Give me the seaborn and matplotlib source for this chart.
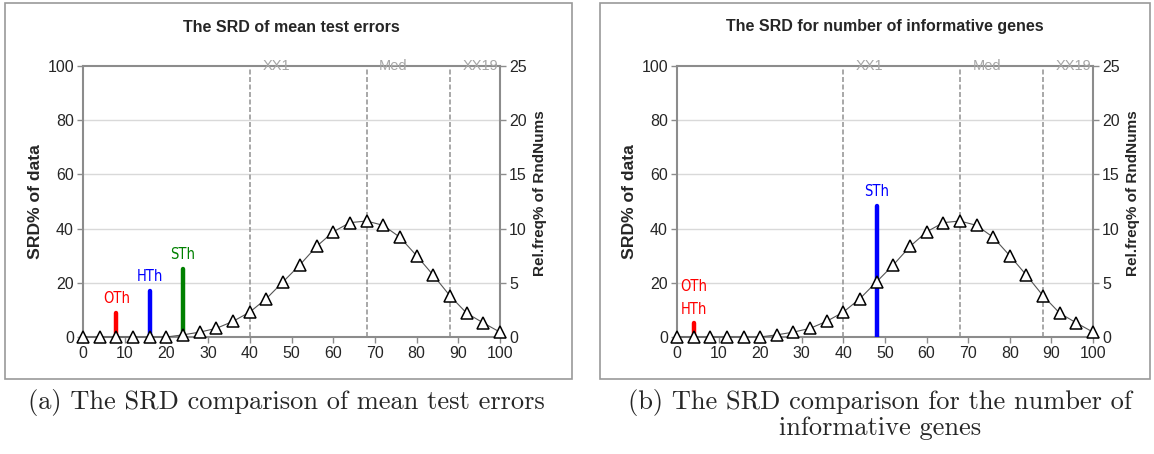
import numpy as np
import pandas as pd
import matplotlib
matplotlib.use('Agg')
import matplotlib.pyplot as plt
from matplotlib.patches import Rectangle
import seaborn as sns

# random-number reference distribution (right axis, Rel.freq%)
rnd_x = [0, 4, 8, 12, 16, 20, 24, 28, 32, 36, 40, 44, 48, 52, 56, 60, 64, 68, 72, 76, 80, 84, 88, 92, 96, 100]
rnd_freq = [0, 0, 0, 0, 0, 0, 0.2, 0.45, 0.8, 1.45, 2.3, 3.55, 5.1, 6.65, 8.35, 9.7,
            10.55, 10.7, 10.3, 9.2, 7.5, 5.7, 3.8, 2.2, 1.3, 0.45]

# reference lines
ref_names = ['XX1', 'Med', 'XX19']
ref_x = [40, 68, 88]

# panel (a): mean test errors
a_title = 'The SRD of mean test errors'
a_methods = ['OTh', 'HTh', 'STh']
a_srd = [8, 16, 24]
a_height = [9, 17, 25]
a_colors = ['red', 'blue', 'green']

# panel (b): number of informative genes
b_title = 'The SRD for number of informative genes'
b_methods = ['OTh\nHTh', 'STh']
b_srd = [4, 48]
b_height = [5, 48.5]
b_colors = ['red', 'blue']

captions = ['(a) The SRD comparison of mean test errors',
            '(b) The SRD comparison for the number of\ninformative genes']

sns.set_style('white')
plt.rcParams['font.family'] = ['Liberation Sans', 'DejaVu Sans']

W, H = 1154, 454
fig = plt.figure(figsize=(W / 100, H / 100), dpi=100)


def px_rect(x0, y0, x1, y1):
    return [x0 / W, 1 - y1 / H, (x1 - x0) / W, (y1 - y0) / H]


def draw_panel(box, plot, title, methods, srd, heights, colors, caption, cap_x):
    bx = px_rect(*box)
    fig.add_artist(Rectangle((bx[0], bx[1]), bx[2], bx[3], transform=fig.transFigure,
                             fill=False, edgecolor='#999999', linewidth=1.2))
    ax = fig.add_axes(px_rect(*plot))
    pw = plot[2] - plot[0]
    ax.set_xlim(0, 100)
    ax.set_ylim(0, 100)
    ax.set_yticks([0, 20, 40, 60, 80, 100])
    ax.set_xticks(range(0, 101, 10))
    for y in [20, 40, 60, 80]:
        ax.axhline(y, color='#d9d9d9', linewidth=1.0, zorder=0)
    for sp in ax.spines.values():
        sp.set_color('#8c8c8c')
        sp.set_linewidth(1.5)
    ax.spines['right'].set_visible(False)
    ax.tick_params(axis='both', direction='out', length=4, width=1, color='#8c8c8c',
                   labelsize=11.5, pad=2.5, left=True, bottom=True)
    ax.set_ylabel('SRD% of data', fontweight='bold', fontsize=12.6)
    ax.yaxis.set_label_coords(-40 / pw, 0.5)

    for name, xv in zip(ref_names, ref_x):
        ax.axvline(xv, color='#999999', linestyle=(0, (3, 1.5)), linewidth=1.2, zorder=1)
        ax.text(xv + 3, 100, name, color='#a6a6a6', fontsize=10.5, ha='left', va='center')

    for m, xv, h, c in zip(methods, srd, heights, colors):
        ax.plot([xv, xv], [0, h], color=c, linewidth=3.2, solid_capstyle='round', zorder=3)
        ax.text(xv, h + 2.5, m, color=c, fontsize=10.5, ha='center', va='bottom',
                linespacing=1.6, family='DejaVu Sans', fontstretch='condensed')

    ax2 = ax.twinx()
    df = pd.DataFrame({'x': rnd_x, 'freq': rnd_freq})
    sns.lineplot(data=df, x='x', y='freq', ax=ax2, color='#555555', linewidth=0.8,
                 marker='^', markersize=8.5, markerfacecolor='white',
                 markeredgecolor='black', markeredgewidth=1.1, zorder=5, clip_on=False)
    ax2.set_ylim(0, 25)
    ax2.set_xlim(0, 100)
    ax2.set_yticks([0, 5, 10, 15, 20, 25])
    for k in ['left', 'top', 'bottom']:
        ax2.spines[k].set_visible(False)
    ax2.spines['right'].set_color('#8c8c8c')
    ax2.spines['right'].set_linewidth(1.5)
    ax2.tick_params(axis='y', direction='out', length=4, width=1, color='#8c8c8c',
                    labelsize=11.5, pad=2.5, right=True)
    ax2.set_xlabel('')
    ax2.set_ylabel('Rel.freq% of RndNums', fontweight='bold', fontsize=11)
    ax2.yaxis.set_label_coords(1 + 33 / pw, 0.53)

    cx = (plot[0] + plot[2]) / 2
    fig.text(cx / W, 1 - 27 / H, title, ha='center', va='center', fontsize=11.5,
             fontweight='bold')
    fig.text(cap_x / W, 1 - 389 / H, caption, ha='center', va='top', fontsize=19,
             family='cmr10', linespacing=1.0)


draw_panel((5, 3, 572, 379), (83, 66, 500, 337), a_title, a_methods, a_srd, a_height,
           a_colors, captions[0], 286)
draw_panel((600, 3, 1150, 379), (677, 66, 1093, 337), b_title, b_methods, b_srd, b_height,
           b_colors, captions[1], 880)

fig.savefig('out.png', dpi=100)
